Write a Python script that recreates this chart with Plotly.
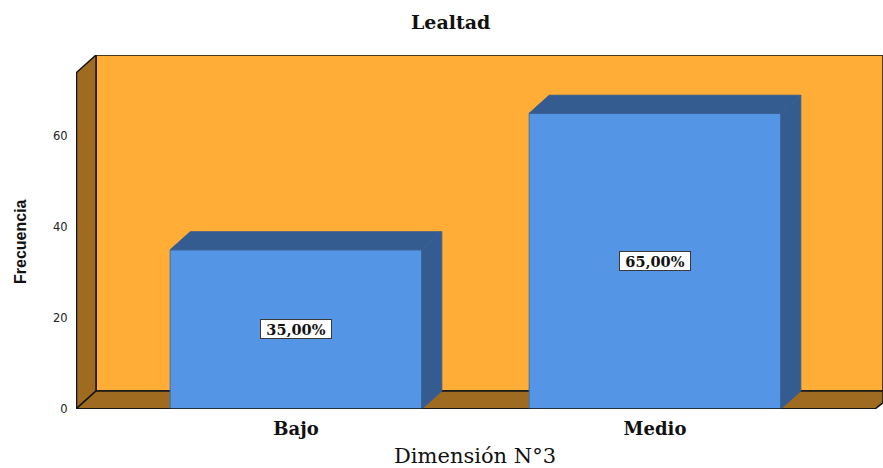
import plotly.graph_objects as go

# Chart data
categories = ["Bajo", "Medio"]
frequencies = [35, 65]
percent_labels = ["35,00%", "65,00%"]
y_ticks = [0, 20, 40, 60]

# Colours
WALL = "#FFAD36"
SIDE_WALL = "#9E6B21"
BAR_FRONT = "#5495E6"
BAR_SHADE = "#355C90"
EDGE = "#141414"

# Extruded look of the bars and the chart box, in axis units
BAR_WIDTH = 0.701
DEPTH_X = 0.0557
DEPTH_Y = 3.96
X_MIN, X_MAX = -0.6128, 1.6351
Y_FRONT_TOP = 73.85
Y_MAX = Y_FRONT_TOP + DEPTH_Y
X_FLOOR_RIGHT = 1.6128

# Plot area inside the page, used to place free-standing titles
PLOT_LEFT, PLOT_TOP, PLOT_RIGHT, PLOT_BOTTOM = 76, 55, 883, 409


def paper_x(px):
    return (px - PLOT_LEFT) / (PLOT_RIGHT - PLOT_LEFT)


def paper_y(py):
    return (PLOT_BOTTOM - py) / (PLOT_BOTTOM - PLOT_TOP)


def polygon(points):
    """SVG path for a closed polygon given in axis coordinates."""
    head, *rest = points
    return f"M {head[0]} {head[1]} " + " ".join(f"L {x} {y}" for x, y in rest) + " Z"


back_x = X_MIN + DEPTH_X
box_shapes = [
    # back wall
    dict(path=polygon([(back_x, DEPTH_Y), (X_MAX, DEPTH_Y), (X_MAX, Y_MAX), (back_x, Y_MAX)]),
         fillcolor=WALL, line=dict(color=EDGE, width=1.5)),
    # left wall
    dict(path=polygon([(X_MIN, 0), (back_x, DEPTH_Y), (back_x, Y_MAX), (X_MIN, Y_FRONT_TOP)]),
         fillcolor=SIDE_WALL, line=dict(color=EDGE, width=1.5)),
    # floor
    dict(path=polygon([(X_MIN, 0), (back_x, DEPTH_Y), (X_MAX, DEPTH_Y), (X_MAX, DEPTH_Y * 0.35), (X_FLOOR_RIGHT, 0)]),
         fillcolor=SIDE_WALL, line=dict(color=EDGE, width=1.5)),
]
for shape in box_shapes:
    shape.update(type="path", xref="x", yref="y", layer="below")

# Heavier front edges: the baseline runs across the feet of the bars
box_shapes += [
    dict(type="line", xref="x", yref="y", layer="above", x0=X_MIN, y0=0, x1=X_FLOOR_RIGHT, y1=0,
         line=dict(color=EDGE, width=1.5)),
    dict(type="line", xref="x", yref="y", layer="above", x0=X_MIN, y0=0, x1=X_MIN, y1=Y_FRONT_TOP,
         line=dict(color=EDGE, width=2.5)),
]

fig = go.Figure()

# Front faces of the bars
fig.add_trace(go.Bar(
    x=list(range(len(categories))),
    y=frequencies,
    width=BAR_WIDTH,
    marker=dict(color=BAR_FRONT, line=dict(color="#3F6FA8", width=1)),
    showlegend=False,
))

# Top and side faces of the bars
half = BAR_WIDTH / 2
for i, value in enumerate(frequencies):
    left, right = i - half, i + half
    top_face = [(left, value), (left + DEPTH_X, value + DEPTH_Y),
                (right + DEPTH_X, value + DEPTH_Y), (right, value), (left, value)]
    side_face = [(right, 0), (right + DEPTH_X, DEPTH_Y),
                 (right + DEPTH_X, value + DEPTH_Y), (right, value), (right, 0)]
    for face in (top_face, side_face):
        fig.add_trace(go.Scatter(
            x=[p[0] for p in face],
            y=[p[1] for p in face],
            mode="lines",
            fill="toself",
            fillcolor=BAR_SHADE,
            line=dict(color="#3A5F8F", width=1),
            showlegend=False,
            hoverinfo="skip",
        ))

# Percentage boxes centred on each bar
annotations = [
    dict(x=i, y=value / 2, xref="x", yref="y", text=f"<b>{label}</b>", showarrow=False,
         font=dict(family="DejaVu Serif", size=14.5, color="#111111"),
         width=68, height=16, align="center", valign="middle",
         bgcolor="white", bordercolor="#3A3A3A", borderwidth=1, borderpad=1)
    for i, (value, label) in enumerate(zip(frequencies, percent_labels))
]

# Chart and axis titles, placed by pixel position in the page
annotations += [
    dict(x=paper_x(450), y=paper_y(22), xref="paper", yref="paper", text="<b>Lealtad</b>",
         xanchor="center", yanchor="middle",
         showarrow=False, font=dict(family="DejaVu Serif", size=19, color="#111111")),
    dict(x=paper_x(475), y=paper_y(456), xref="paper", yref="paper", text="Dimensión N°3",
         xanchor="center", yanchor="middle", height=20, valign="middle", borderpad=0,
         showarrow=False, font=dict(family="DejaVu Serif", size=21, color="#111111")),
    dict(x=paper_x(21), y=paper_y(241), xref="paper", yref="paper", text="<b>Frecuencia</b>", textangle=-90,
         xanchor="center", yanchor="middle",
         showarrow=False, font=dict(family="Liberation Sans", size=16, color="#111111")),
]

fig.update_layout(
    width=883,
    height=468,
    autosize=False,
    margin=dict(l=76, r=0, t=55, b=59),
    paper_bgcolor="white",
    plot_bgcolor="white",
    shapes=box_shapes,
    annotations=annotations,
    xaxis=dict(
        range=[X_MIN, X_MAX],
        tickmode="array",
        tickvals=list(range(len(categories))),
        ticktext=[f"<b>{c}</b>" for c in categories],
        tickfont=dict(family="DejaVu Serif", size=18, color="#111111"),
        showgrid=False,
        zeroline=False,
        showline=False,
        ticks="outside",
        ticklen=3,
        tickcolor="rgba(0,0,0,0)",
    ),
    yaxis=dict(
        range=[0, Y_MAX],
        tickmode="array",
        tickvals=y_ticks,
        tickfont=dict(family="DejaVu Sans", size=11.5, color="#222222"),
        showgrid=False,
        zeroline=False,
        showline=False,
        ticks="outside",
        ticklen=5,
        tickcolor="rgba(0,0,0,0)",
    ),
)

fig.write_html("out.html", config=dict(displayModeBar=False))
